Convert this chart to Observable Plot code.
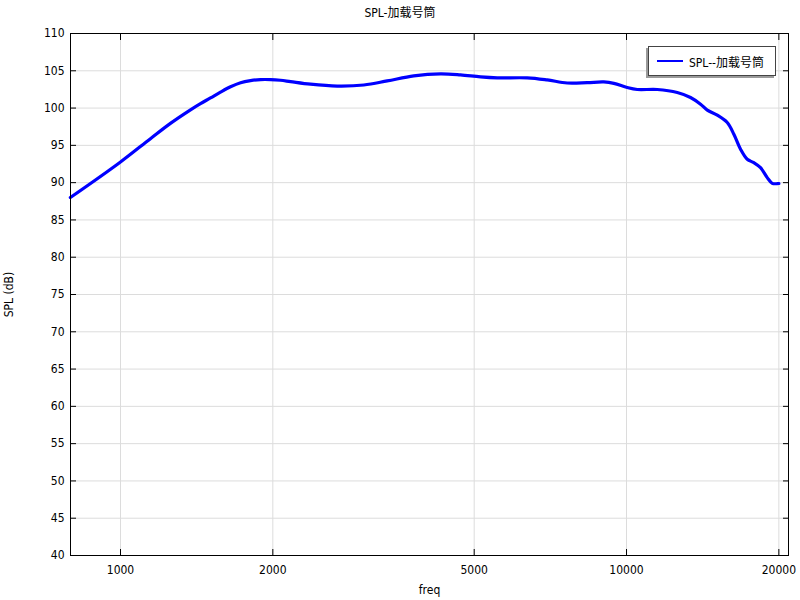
<!DOCTYPE html>
<html>
<head>
<meta charset="utf-8">
<script src="https://cdn.jsdelivr.net/npm/d3@7"></script>
<script src="https://cdn.jsdelivr.net/npm/@observablehq/plot@0.6"></script>
<style>
  body { margin: 0; background: #fff; }
  #wrap { position: relative; width: 800px; height: 600px; font-family: "DejaVu Sans Condensed", "DejaVu Sans", "Noto Sans CJK SC", sans-serif; }
  #title { position: absolute; top: 3px; left: 0; width: 800px; text-align: center; font-size: 12px; color: #000; }
  #legend { position: absolute; left: 648px; top: 46px; width: 128px; height: 30px; border: 1px solid #444; background: #fff; box-shadow: -2px 2px 0 #9a9a9a; font-size: 12px; box-sizing: border-box; }
  #legend .sw { position: absolute; left: 8px; top: 13px; width: 26px; height: 2px; background: #0000ff; }
  #legend .tx { position: absolute; left: 40px; top: 6px; white-space: nowrap; }
</style>
</head>
<body>
<div id="wrap">
  <div id="chart"></div>
  <div id="title">SPL-加载号筒</div>
  <div id="legend"><div class="sw"></div><div class="tx">SPL--加载号筒</div></div>
</div>
<script>
const freq = [796, 997, 1146, 1255, 1375, 1439, 1506, 1576, 1650, 1727, 1807, 1891, 1979, 2071, 2168, 2374, 2681, 3026, 3366, 3798, 4290, 4697, 5146, 5553, 6364, 6970, 7636, 8363, 9018, 9438, 10032, 10499, 11499, 12597, 13381, 14006, 14441, 15111, 15813, 16298, 16801, 17320, 17849, 18399, 18970, 19407, 19855, 20000];
const spl = [88.0, 92.7, 95.9, 97.95, 99.77, 100.6, 101.36, 102.14, 102.86, 103.4, 103.68, 103.82, 103.82, 103.73, 103.55, 103.2, 102.95, 103.09, 103.64, 104.32, 104.59, 104.45, 104.18, 104.05, 104.05, 103.77, 103.36, 103.41, 103.5, 103.32, 102.76, 102.49, 102.49, 102.09, 101.42, 100.52, 99.72, 99.04, 98.06, 96.49, 94.48, 93.13, 92.68, 92.01, 90.67, 89.91, 89.86, 89.88];
const xTicks = [1000, 2000, 5000, 10000, 20000];
const yTicks = [40, 45, 50, 55, 60, 65, 70, 75, 80, 85, 90, 95, 100, 105, 110];

const data = freq.map((f, i) => ({f, v: spl[i]}));

const plot = Plot.plot({
  width: 800,
  height: 600,
  marginLeft: 70,
  marginRight: 12,
  marginTop: 33,
  marginBottom: 45,
  style: {fontFamily: '"DejaVu Sans Condensed", "DejaVu Sans", "Noto Sans CJK SC", sans-serif', fontSize: "12px", color: "#000", background: "#fff"},
  x: {type: "log", domain: [796.5, 20898]},
  y: {domain: [40, 110]},
  marks: [
    Plot.gridX(xTicks, {stroke: "#dcdcdc", strokeOpacity: 1}),
    Plot.gridY(yTicks, {stroke: "#dcdcdc", strokeOpacity: 1}),
    Plot.axisX(xTicks, {anchor: "bottom", tickSize: 0, tickPadding: 10, tickFormat: d => String(d), label: "freq", labelAnchor: "center", labelOffset: 38, labelArrow: "none"}),
    Plot.axisX(xTicks, {anchor: "bottom", tickSize: -6, text: null, label: null}),
    Plot.axisX(xTicks, {anchor: "top", tickSize: -6, text: null, label: null}),
    Plot.axisY(yTicks, {anchor: "left", tickSize: 0, tickPadding: 6, label: "SPL (dB)", labelAnchor: "center", labelOffset: 66, labelArrow: "none"}),
    Plot.axisY(yTicks, {anchor: "left", tickSize: -6, text: null, label: null}),
    Plot.axisY(yTicks, {anchor: "right", tickSize: -6, text: null, label: null}),
    Plot.line(data, {x: "f", y: "v", stroke: "#0000ff", strokeWidth: 3.2, curve: "catmull-rom"}),
    Plot.frame({stroke: "#000", strokeWidth: 1})
  ]
});
document.getElementById("chart").appendChild(plot);
</script>
</body>
</html>
